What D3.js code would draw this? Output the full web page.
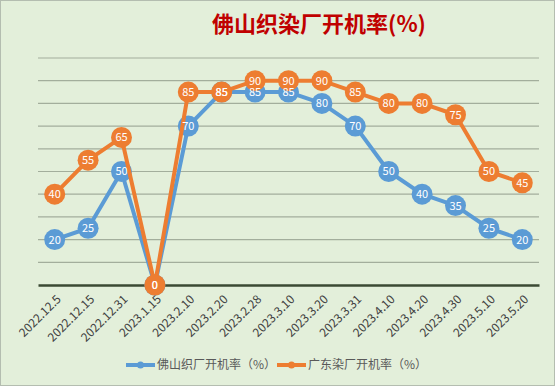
<!DOCTYPE html>
<html>
<head>
<meta charset="utf-8">
<script src="https://cdn.jsdelivr.net/npm/d3@7"></script>
<style>
  html, body { margin: 0; padding: 0; background: #e3efda; }
  svg { display: block; }
</style>
</head>
<body>
<svg id="chart"></svg>
<script>
const dates = ["2022.12.5", "2022.12.15", "2022.12.31", "2023.1.15", "2023.2.10", "2023.2.20", "2023.2.28",
  "2023.3.10", "2023.3.20", "2023.3.31", "2023.4.10", "2023.4.20", "2023.4.30", "2023.5.10", "2023.5.20"];
const foshanWeave = [20, 25, 50, 0, 70, 85, 85, 85, 80, 70, 50, 40, 35, 25, 20];
const guangdongDye = [40, 55, 65, 0, 85, 85, 90, 90, 90, 85, 80, 80, 75, 50, 45];
const seriesNames = ["佛山织厂开机率（%）", "广东染厂开机率（%）"];
const seriesColors = ["#5b9bd5", "#ed7d31"];
const yTicks = [10, 20, 30, 40, 50, 60, 70, 80, 90, 100];

const width = 555, height = 386;
const plot = {left: 38, right: 539, top: 58, bottom: 285};
const font = "'Noto Sans CJK SC', 'Noto Sans', sans-serif";

const svg = d3.select('#chart').attr('width', width).attr('height', height);

svg.append('rect')
  .attr('x', 0.5).attr('y', 0.5)
  .attr('width', width - 1).attr('height', height - 1)
  .attr('fill', '#e3efda')
  .attr('stroke', '#b4bdb0');

const x = d3.scaleBand().domain(dates).range([plot.left, plot.right]);
const y = d3.scaleLinear().domain([0, 100]).range([plot.bottom, plot.top]);
const cx = i => x(dates[i]) + x.bandwidth() / 2;

// title
svg.append('text')
  .text('佛山织染厂开机率(%)')
  .attr('x', 319).attr('y', 32)
  .attr('text-anchor', 'middle')
  .attr('fill', '#c00000')
  .attr('font-family', font)
  .attr('font-weight', 'bold')
  .attr('font-size', '22px');

// gridlines
svg.append('g')
  .selectAll('line')
  .data(yTicks).enter().append('line')
  .attr('x1', plot.left).attr('x2', plot.right)
  .attr('y1', d => y(d)).attr('y2', d => y(d))
  .attr('stroke', '#a3ae9c')
  .attr('stroke-width', 1.2);

// baseline axis
const xAxis = svg.append('g')
  .attr('transform', `translate(0,${plot.bottom})`)
  .call(d3.axisBottom(x).tickSize(0).tickPadding(0));
xAxis.select('.domain')
  .attr('stroke', '#3b4a33')
  .attr('stroke-width', 2.5);
xAxis.selectAll('text')
  .attr('font-family', font)
  .attr('font-size', '12px')
  .attr('fill', '#404040')
  .attr('text-anchor', 'end')
  .attr('dy', null)
  .attr('transform', 'translate(7,15) rotate(-45)');

const allSeries = [foshanWeave, guangdongDye];

const line = d3.line()
  .x((d, i) => cx(i))
  .y(d => y(d));

// lines + markers per series
allSeries.forEach((values, s) => {
  const g = svg.append('g');
  g.append('path')
    .datum(values)
    .attr('d', line)
    .attr('fill', 'none')
    .attr('stroke', seriesColors[s])
    .attr('stroke-width', 4)
    .attr('stroke-linejoin', 'round');

  g.selectAll('circle')
    .data(values).enter().append('circle')
    .attr('cx', (d, i) => cx(i))
    .attr('cy', d => y(d))
    .attr('r', 10.5)
    .attr('fill', seriesColors[s]);
});

// data labels on top of everything, like excel
allSeries.forEach((values, s) => {
  svg.append('g')
    .selectAll('text')
    .data(values).enter().append('text')
    .text(d => d)
    .attr('x', (d, i) => cx(i))
    .attr('y', d => y(d))
    .attr('text-anchor', 'middle')
    .attr('dy', '0.36em')
    .attr('fill', 'white')
    .attr('font-family', font)
    .attr('font-size', '11px');
});

// legend
const legend = svg.append('g').attr('transform', 'translate(126,365)');
const legendX = [0, 151];
seriesNames.forEach((name, s) => {
  const lg = legend.append('g').attr('transform', `translate(${legendX[s]},0)`);
  lg.append('line')
    .attr('x1', 0).attr('x2', 29)
    .attr('y1', 0).attr('y2', 0)
    .attr('stroke', seriesColors[s])
    .attr('stroke-width', 4);
  lg.append('circle')
    .attr('cx', 14.5).attr('cy', 0).attr('r', 3.5)
    .attr('fill', seriesColors[s]);
  lg.append('text')
    .text(name)
    .attr('x', 31).attr('y', 0)
    .attr('dy', '0.35em')
    .attr('fill', '#595959')
    .attr('font-family', font)
    .attr('font-size', '12px');
});
</script>
</body>
</html>
